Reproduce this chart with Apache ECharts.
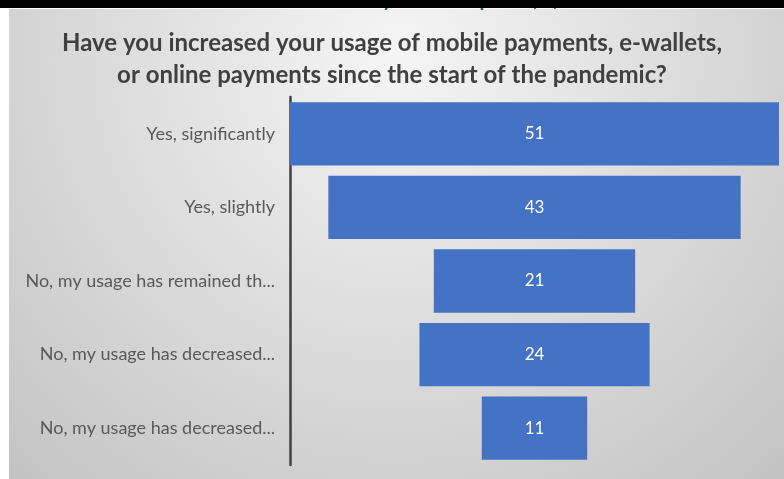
<!DOCTYPE html>
<html>
<head>
<meta charset="utf-8">
<script src="https://cdn.jsdelivr.net/npm/echarts@6/dist/echarts.min.js"></script>
<style>
  html, body { margin: 0; padding: 0; background: #fff; }
  .wrap { position: relative; width: 784px; height: 479px; overflow: hidden; }
  #chart { width: 784px; height: 479px; }
  /* cropped header from the source slide */
  .topbar { position: absolute; left: 0; top: 0; width: 784px; height: 8px; background: #000; z-index: 3; }
  .cutoff {
    position: absolute; left: 300px; width: 300px; top: -12px; z-index: 2;
    font: bold 20px Lato; line-height: 20px; color: #2f5597; text-align: center;
  }
</style>
</head>
<body>
<div class="wrap">
  <div id="chart"></div>
  <div class="cutoff">E-Payment Adoption (%)</div>
  <div class="topbar"></div>
</div>
<script>
// survey answers (labels are cut off in the original)
const categories = [
  'Yes, significantly',
  'Yes, slightly',
  'No, my usage has remained th...',
  'No, my usage has decreased...',
  'No, my usage has decreased...'
];
const values = [51, 43, 21, 24, 11];
const titleLines = [
  'Have you increased your usage of mobile payments, e-wallets,',
  'or online payments since the start of the pandemic?'
];

// invisible spacer so the bars sit centred (funnel look)
const maxVal = Math.max(...values);
const spacer = values.map(v => (maxVal - v) / 2);

const chart = echarts.init(document.getElementById('chart'));

const option = {
  animation: false,
  title: {
    text: titleLines.join('\n'),
    left: 'center',
    top: 22,
    textStyle: {
      fontFamily: 'Lato',
      fontWeight: 'bold',
      fontSize: 24,
      lineHeight: 32,
      color: '#404040'
    }
  },
  graphic: [
    {
      type: 'rect',
      z: -10,
      shape: { x: 9, y: 9, width: 775, height: 470 },
      style: {
        fill: {
          type: 'radial', x: 0.5, y: 0.1, r: 1.2,
          colorStops: [
            { offset: 0, color: '#f5f5f5' },
            { offset: 1, color: '#c4c4c4' }
          ]
        }
      }
    }
  ],
  grid: { left: 290, right: 5, top: 97, bottom: 14, containLabel: false },
  xAxis: {
    type: 'value',
    min: 0,
    max: maxVal,
    show: false
  },
  yAxis: {
    type: 'category',
    inverse: true,
    data: categories,
    axisLine: { show: true, lineStyle: { color: '#404040', width: 2.5 } },
    axisTick: { show: false },
    axisLabel: {
      margin: 15,
      fontFamily: 'Lato',
      fontSize: 18,
      color: '#595959'
    }
  },
  series: [
    {
      type: 'bar',
      stack: 'funnel',
      data: spacer,
      barCategoryGap: '14%',
      itemStyle: { color: 'transparent' },
      silent: true
    },
    {
      type: 'bar',
      stack: 'funnel',
      data: values,
      barCategoryGap: '14%',
      itemStyle: { color: '#4472c4' },
      label: {
        show: true,
        position: 'inside',
        color: '#ffffff',
        fontFamily: 'Lato',
        fontSize: 17
      }
    }
  ]
};

chart.setOption(option);
</script>
</body>
</html>
